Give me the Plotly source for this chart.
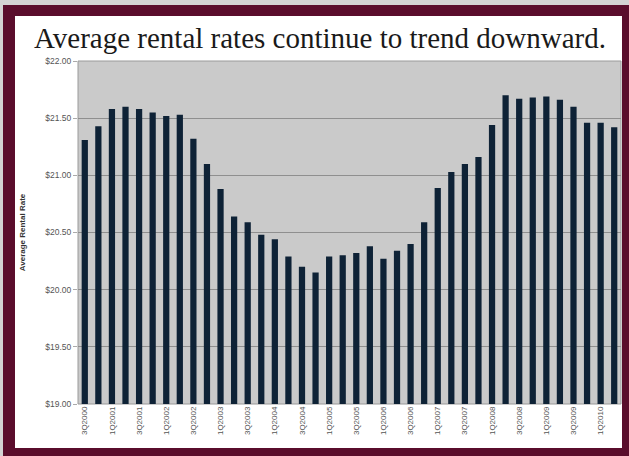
import plotly.graph_objects as go

quarters = [
    "3Q2000", "4Q2000",
    "1Q2001", "2Q2001", "3Q2001", "4Q2001",
    "1Q2002", "2Q2002", "3Q2002", "4Q2002",
    "1Q2003", "2Q2003", "3Q2003", "4Q2003",
    "1Q2004", "2Q2004", "3Q2004", "4Q2004",
    "1Q2005", "2Q2005", "3Q2005", "4Q2005",
    "1Q2006", "2Q2006", "3Q2006", "4Q2006",
    "1Q2007", "2Q2007", "3Q2007", "4Q2007",
    "1Q2008", "2Q2008", "3Q2008", "4Q2008",
    "1Q2009", "2Q2009", "3Q2009", "4Q2009",
    "1Q2010", "2Q2010",
]
rates = [
    21.31, 21.43,
    21.58, 21.60, 21.58, 21.55,
    21.52, 21.53, 21.32, 21.10,
    20.88, 20.64, 20.59, 20.48,
    20.44, 20.29, 20.20, 20.15,
    20.29, 20.30, 20.32, 20.38,
    20.27, 20.34, 20.40, 20.59,
    20.89, 21.03, 21.10, 21.16,
    21.44, 21.70, 21.67, 21.68,
    21.69, 21.66, 21.60, 21.46,
    21.46, 21.42,
]
x_tick_labels = quarters[::2]
y_tick_values = [19.0, 19.5, 20.0, 20.5, 21.0, 21.5, 22.0]
y_tick_labels = ["$19.00", "$19.50", "$20.00", "$20.50", "$21.00", "$21.50", "$22.00"]
title_text = "Average rental rates continue to trend downward."
y_title = "Average Rental Rate"

W, H = 629, 456
L, R, T, B = 78, 8, 61, 52
pw, ph = W - L - R, H - T - B

def px(x):
    return (x - L) / pw

def py(y):
    return (H - B - y) / ph

fig = go.Figure()
fig.add_trace(go.Bar(
    x=quarters, y=rates, width=0.46,
    marker=dict(color="#0e2236", line=dict(width=0)),
))

shapes = [
    dict(type="rect", xref="paper", yref="paper", x0=px(3), x1=px(640), y0=py(5), y1=py(470),
         fillcolor="#5a0d2c", line=dict(width=0), layer="below"),
    dict(type="rect", xref="paper", yref="paper", x0=px(15), x1=px(622), y0=py(16), y1=py(448),
         fillcolor="#ffffff", line=dict(width=0), layer="below"),
    dict(type="rect", xref="paper", yref="paper", x0=0, x1=1, y0=0, y1=1,
         fillcolor="#cacaca", line=dict(width=1, color="#9a9a9a"), layer="below"),
]

fig.update_layout(
    width=W, height=H, autosize=False,
    margin=dict(l=L, r=R, t=T, b=B, pad=0),
    paper_bgcolor="#d3d3d3",
    plot_bgcolor="#cacaca",
    showlegend=False,
    shapes=shapes,
    title=dict(text=title_text, x=320 / W, xanchor="center", xref="container",
               y=1 - 38 / H, yanchor="middle", yref="container",
               font=dict(family="Liberation Serif", size=29, color="#1a1a1a")),
    xaxis=dict(
        type="category",
        tickmode="array", tickvals=x_tick_labels, ticktext=x_tick_labels,
        tickangle=-90, tickfont=dict(family="Liberation Sans", size=8, color="#555"),
        showgrid=False, ticks="", showline=False, zeroline=False,
        range=[-0.5, len(quarters) - 0.5],
    ),
    yaxis=dict(
        range=[19, 22],
        tickmode="array", tickvals=y_tick_values, ticktext=y_tick_labels,
        tickfont=dict(family="Liberation Sans", size=8.5, color="#555"),
        ticks="outside", ticklen=4, tickcolor="#aaa",
        showgrid=True, gridcolor="#8f8f8f", gridwidth=1,
        zeroline=False, showline=False,
        title=dict(text="<b>" + y_title + "</b>", standoff=18,
                   font=dict(family="Liberation Sans", size=8, color="#333")),
    ),
)

fig.write_html("out.html")
